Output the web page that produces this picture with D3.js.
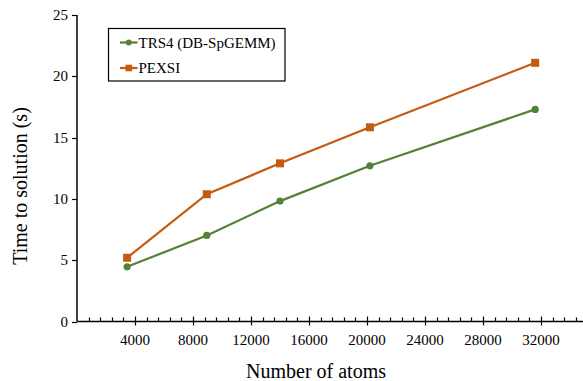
<!DOCTYPE html>
<html><head><meta charset="utf-8">
<script src="https://cdn.jsdelivr.net/npm/d3@7"></script>
<style>body{margin:0;background:#fff}svg{display:block}text{font-family:"Liberation Serif","Times New Roman",serif;fill:#000}</style>
</head><body>
<svg id="c" width="583" height="381"></svg>
<script>
const atoms = [3456, 8950, 14000, 20200, 31600];
const trs4 = [4.46, 7.02, 9.82, 12.70, 17.30];
const pexsi = [5.20, 10.38, 12.90, 15.84, 21.10];
const xTicks = [4000, 8000, 12000, 16000, 20000, 24000, 28000, 32000];
const yTicks = [0, 5, 10, 15, 20, 25];
const seriesNames = ["TRS4 (DB-SpGEMM)", "PEXSI"];
const colors = ["#548235", "#C55A11"];

const svg = d3.select("#c");
const x = d3.scaleLinear().domain([0, 36000]).range([77, 599]);
const y = d3.scaleLinear().domain([0, 25]).range([321.5, 15]);

// x axis
const minor = d3.range(0, 36001, 800).filter(v => v % 4000 !== 0);
const gx = svg.append("g");
gx.append("line").attr("x1", x(0)).attr("x2", 583).attr("y1", y(0)).attr("y2", y(0)).attr("stroke", "#000").attr("stroke-width", 1.5);
gx.selectAll(".mn").data(minor).join("line").attr("x1", d => Math.round(x(d)) + 0.5).attr("x2", d => Math.round(x(d)) + 0.5)
  .attr("y1", y(0) - 4).attr("y2", y(0)).attr("stroke", "#000").attr("stroke-width", 1.2);
gx.selectAll(".mj").data(xTicks).join("line").attr("x1", d => Math.round(x(d)) + 0.5).attr("x2", d => Math.round(x(d)) + 0.5)
  .attr("y1", y(0) - 5).attr("y2", y(0) + 4).attr("stroke", "#000").attr("stroke-width", 1.2);
gx.selectAll("text").data(xTicks).join("text").attr("x", d => x(d)).attr("y", 345).attr("text-anchor", "middle")
  .attr("font-size", 15).text(d => d);

// y axis
const gy = svg.append("g");
gy.append("line").attr("x1", x(0)).attr("x2", x(0)).attr("y1", y(25)).attr("y2", y(0)).attr("stroke", "#000").attr("stroke-width", 1.5);
gy.selectAll("line.t").data(yTicks).join("line").attr("class", "t").attr("x1", x(0) - 5).attr("x2", x(0))
  .attr("y1", d => Math.round(y(d)) + 0.5).attr("y2", d => Math.round(y(d)) + 0.5).attr("stroke", "#000").attr("stroke-width", 1.2);
gy.selectAll("text").data(yTicks).join("text").attr("x", 68).attr("y", d => y(d) + 5).attr("text-anchor", "end")
  .attr("font-size", 15).text(d => d);

// titles
svg.append("text").attr("x", 316).attr("y", 378).attr("text-anchor", "middle").attr("font-size", 20).text("Number of atoms");
svg.append("text").attr("transform", "translate(26.5,186) rotate(-90)").attr("text-anchor", "middle").attr("font-size", 20).text("Time to solution (s)");

// series
const line = d3.line().x(d => x(d[0])).y(d => y(d[1]));
const data = [atoms.map((a, i) => [a, trs4[i]]), atoms.map((a, i) => [a, pexsi[i]])];
data.forEach((pts, k) => {
  svg.append("path").datum(pts).attr("d", line).attr("fill", "none").attr("stroke", colors[k]).attr("stroke-width", 2.2);
  if (k === 0) {
    svg.selectAll(".c0").data(pts).join("circle").attr("cx", d => x(d[0])).attr("cy", d => y(d[1])).attr("r", 3.6).attr("fill", colors[k]);
  } else {
    svg.selectAll(".s1").data(pts).join("rect").attr("x", d => x(d[0]) - 4).attr("y", d => y(d[1]) - 4).attr("width", 8).attr("height", 8).attr("fill", colors[k]);
  }
});

// legend
const lg = svg.append("g");
lg.append("rect").attr("x", 108.5).attr("y", 28.5).attr("width", 176.5).attr("height", 52.5).attr("fill", "#fff").attr("stroke", "#000").attr("stroke-width", 1.2);
const ly = [42.5, 68];
seriesNames.forEach((n, k) => {
  lg.append("line").attr("x1", 120).attr("x2", 137.5).attr("y1", ly[k]).attr("y2", ly[k]).attr("stroke", colors[k]).attr("stroke-width", 2.2);
  if (k === 0) lg.append("circle").attr("cx", 128.75).attr("cy", ly[k]).attr("r", 3).attr("fill", colors[k]);
  else lg.append("rect").attr("x", 125.5).attr("y", ly[k] - 3.3).attr("width", 6.6).attr("height", 6.6).attr("fill", colors[k]);
  lg.append("text").attr("x", 138.5).attr("y", ly[k] + 5).attr("font-size", 15).text(n);
});
</script>
</body></html>
